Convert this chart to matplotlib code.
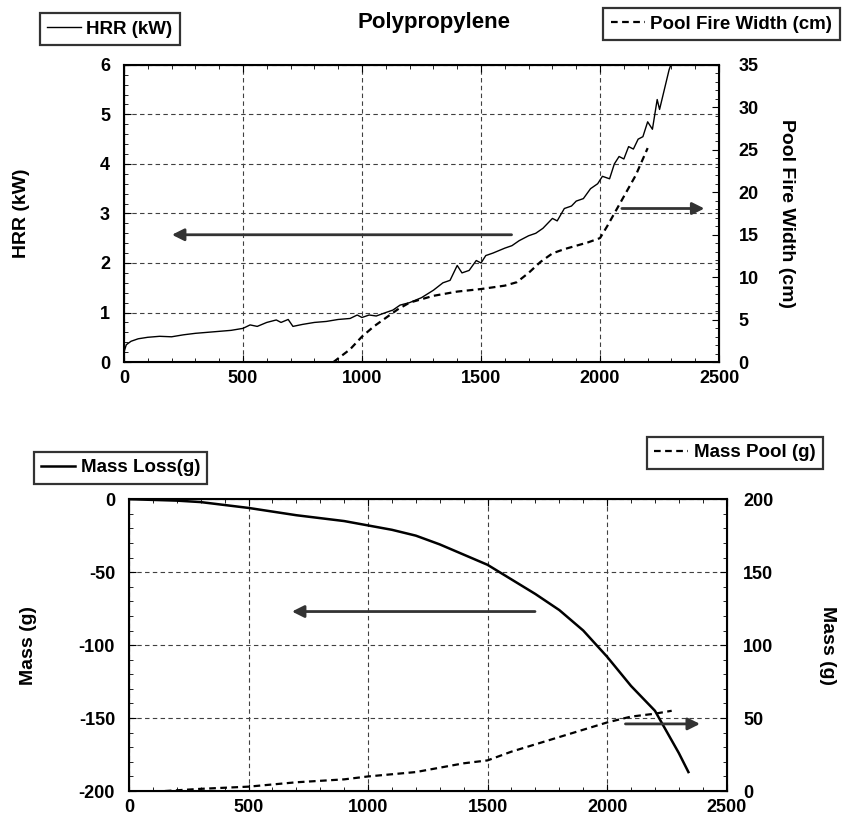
import matplotlib
matplotlib.use("Agg")
import matplotlib.pyplot as plt
from matplotlib.ticker import MultipleLocator

plt.rcParams["font.family"] = ["Liberation Sans", "DejaVu Sans"]
plt.rcParams["font.weight"] = "bold"
plt.rcParams["axes.unicode_minus"] = False

# HRR (kW) vs time (s)
hrr_t = [0, 10, 30, 60, 100, 150, 200, 250, 300, 350, 400, 450, 500, 530, 560, 600,
         640, 660, 690, 710, 750, 800, 850, 900, 950, 980, 1000, 1030, 1060, 1100,
         1130, 1160, 1200, 1250, 1300, 1340, 1370, 1400, 1420, 1450, 1480, 1500,
         1520, 1550, 1600, 1630, 1660, 1700, 1730, 1760, 1800, 1820, 1850, 1880,
         1900, 1930, 1960, 1990, 2010, 2040, 2060, 2080, 2100, 2120, 2140, 2160,
         2180, 2200, 2220, 2240, 2250, 2270, 2290, 2305]
hrr_kw = [0.2, 0.35, 0.42, 0.47, 0.5, 0.52, 0.51, 0.55, 0.58, 0.6, 0.62, 0.64, 0.68, 0.75,
          0.72, 0.8, 0.85, 0.8, 0.86, 0.72, 0.76, 0.8, 0.82, 0.86, 0.88, 0.95, 0.9, 0.95,
          0.93, 1.0, 1.05, 1.15, 1.2, 1.3, 1.45, 1.6, 1.65, 1.95, 1.8, 1.85, 2.05, 2.0,
          2.15, 2.2, 2.3, 2.35, 2.45, 2.55, 2.6, 2.7, 2.9, 2.85, 3.1, 3.15, 3.25, 3.3,
          3.5, 3.6, 3.75, 3.7, 4.0, 4.15, 4.1, 4.35, 4.3, 4.5, 4.55, 4.85, 4.7, 5.3,
          5.1, 5.5, 5.9, 6.1]

# Pool fire width (cm)
pool_t = [880, 950, 1000, 1050, 1100, 1150, 1200, 1300, 1400, 1500, 1600, 1650, 1700,
          1750, 1800, 1850, 1900, 1950, 2000, 2030, 2060, 2100, 2150, 2200]
pool_cm = [0, 1.5, 3, 4.2, 5.2, 6.2, 7, 7.8, 8.3, 8.6, 9.0, 9.4, 10.5, 11.8, 12.8, 13.3,
           13.7, 14.1, 14.6, 16, 17.5, 19.5, 22, 25.2]

# Mass loss (g)
loss_t = [0, 200, 300, 500, 700, 900, 1000, 1100, 1200, 1300, 1400, 1500, 1600, 1700,
          1800, 1900, 2000, 2100, 2200, 2300, 2340]
loss_g = [0, -1, -2, -6, -11, -15, -18, -21, -25, -31, -38, -45, -55, -65, -76, -90,
          -108, -128, -145, -174, -187]

# Mass pool (g)
mpool_t = [150, 300, 500, 700, 900, 1000, 1200, 1400, 1500, 1600, 1700, 1800, 1900,
           2000, 2100, 2200, 2270]
mpool_g = [0, 1.5, 3, 6, 8, 10, 13, 19, 21, 27, 32, 37, 42, 47, 51, 53, 55]

fig = plt.figure(figsize=(8.43, 8.21), dpi=100)
ax1 = fig.add_axes([0.147, 0.559, 0.706, 0.362])
ax2 = fig.add_axes([0.153, 0.0365, 0.709, 0.3555])
dash = (0, (3, 2))
arrow = dict(arrowstyle="-|>", lw=2, color="0.2", mutation_scale=18)


def style(ax, ymaj, ymin):
    ax.set_xlim(0, 2500)
    ax.xaxis.set_major_locator(MultipleLocator(500))
    ax.xaxis.set_minor_locator(MultipleLocator(100))
    ax.yaxis.set_major_locator(MultipleLocator(ymaj))
    ax.yaxis.set_minor_locator(MultipleLocator(ymin))
    ax.tick_params(which="both", direction="in", top=True, labelsize=13)
    ax.tick_params(axis="y", which="major", length=5, pad=10)
    ax.tick_params(axis="x", which="major", length=5, pad=6)
    ax.tick_params(which="minor", length=3)
    ax.grid(True, which="major", color="0.25", ls=(0, (4, 3)), lw=0.8)
    for s in ax.spines.values():
        s.set_linewidth(1.5)


def style_right(ax, ymaj, ymin, pad):
    ax.yaxis.set_major_locator(MultipleLocator(ymaj))
    ax.yaxis.set_minor_locator(MultipleLocator(ymin))
    ax.tick_params(which="both", direction="in", labelsize=13)
    ax.tick_params(which="major", length=5, pad=pad)
    ax.tick_params(which="minor", length=3)


# top panel
ax1.plot(hrr_t, hrr_kw, color="black", lw=1.0, label="HRR (kW)")
ax1.set_ylim(0, 6)
style(ax1, 1, 0.2)
ax1.set_ylabel("HRR (kW)", fontsize=14, fontweight="bold", labelpad=50)
ax1r = ax1.twinx()
ax1r.plot(pool_t, pool_cm, color="black", lw=1.6, ls=dash, label="Pool Fire Width (cm)")
ax1r.set_ylim(0, 35)
style_right(ax1r, 5, 1, 14)
ax1r.set_ylabel("Pool Fire Width (cm)", fontsize=14, fontweight="bold",
                rotation=-90, labelpad=26)
ax1.annotate("", xy=(190, 2.57), xytext=(1640, 2.57), arrowprops=arrow)
ax1.annotate("", xy=(2450, 3.1), xytext=(2080, 3.1), arrowprops=arrow)

# bottom panel
ax2.plot(loss_t, loss_g, color="black", lw=1.8, label="Mass Loss(g)")
ax2.set_ylim(-200, 0)
style(ax2, 50, 10)
ax2.set_ylabel("Mass (g)", fontsize=14, fontweight="bold", labelpad=30)
ax2r = ax2.twinx()
ax2r.plot(mpool_t, mpool_g, color="black", lw=1.6, ls=dash, label="Mass Pool (g)")
ax2r.set_ylim(0, 200)
style_right(ax2r, 50, 10, 12)
ax2r.set_ylabel("Mass (g)", fontsize=14, fontweight="bold", rotation=-90, labelpad=45)
ax2.annotate("", xy=(670, -77), xytext=(1710, -77), arrowprops=arrow)
ax2.annotate("", xy=(2400, -154), xytext=(2065, -154), arrowprops=arrow)

fig.text(0.515, 0.972, "Polypropylene", ha="center", va="center",
         fontsize=16, fontweight="bold")

leg_kw = dict(fontsize=13.5, frameon=True, fancybox=False, edgecolor="black",
              handlelength=1.8, handletextpad=0.3, borderpad=0.4, borderaxespad=0)
for lg in [
    fig.legend(handles=ax1.get_lines()[:1], loc="upper left",
               bbox_to_anchor=(0.047, 0.984), **leg_kw),
    fig.legend(handles=ax1r.get_lines(), loc="upper right",
               bbox_to_anchor=(0.996, 0.99), **leg_kw),
    fig.legend(handles=ax2.get_lines()[:1], loc="upper left",
               bbox_to_anchor=(0.04, 0.45), **leg_kw),
    fig.legend(handles=ax2r.get_lines(), loc="upper right",
               bbox_to_anchor=(0.976, 0.468), **leg_kw),
]:
    lg.get_frame().set_linewidth(1.6)

fig.savefig("out.png", dpi=100)
